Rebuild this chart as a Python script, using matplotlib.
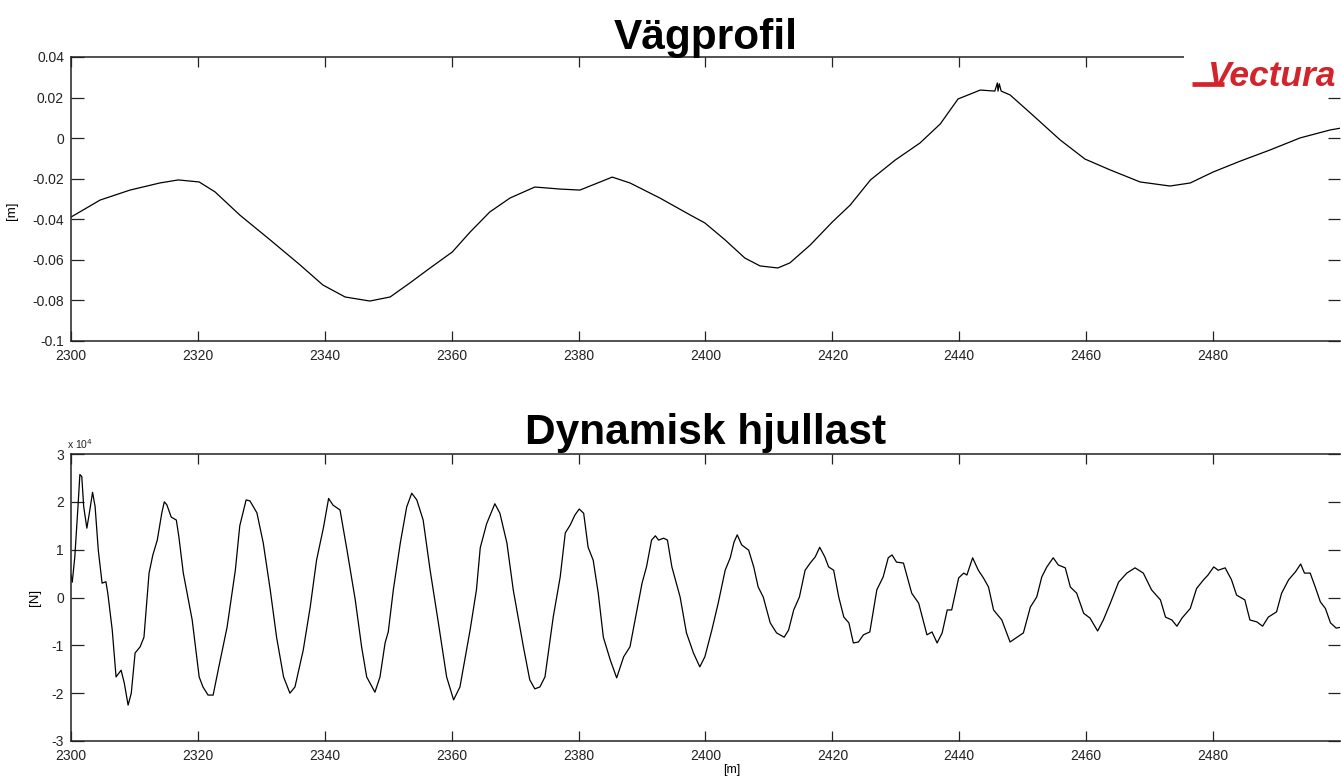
import matplotlib
matplotlib.use("Agg")
import matplotlib.pyplot as plt
from matplotlib.patches import Rectangle
from matplotlib.lines import Line2D

plt.rcParams['font.family'] = ['Liberation Sans', 'DejaVu Sans']

# ---------------- data ----------------
profile_x = [2300.0, 2304.6, 2309.3, 2314.0, 2316.9, 2320.2, 2322.7, 2326.6, 2331.4, 2336.1,
             2339.7, 2343.2, 2347.1, 2350.3, 2353.4, 2356.6, 2360.1, 2362.9, 2366.0, 2369.2,
             2373.1, 2377.1, 2380.2, 2383.4, 2385.3, 2388.1, 2392.8, 2397.6, 2399.9, 2403.1,
             2406.2, 2408.6, 2411.4, 2413.3, 2416.5, 2420.0, 2422.8, 2426.0, 2429.9, 2433.8,
             2437.0, 2439.8, 2443.3, 2445.6, 2446.0, 2446.1, 2446.3, 2446.6, 2448.0, 2451.2,
             2455.9, 2459.8, 2463.8, 2468.5, 2473.2, 2476.4, 2480.0, 2484.3, 2489.0, 2493.7,
             2498.4, 2500.2]
profile_y = [-0.0389, -0.0305, -0.0256, -0.0221, -0.0206, -0.0216, -0.0265, -0.0379, -0.0502, -0.0625,
             -0.0724, -0.0783, -0.0803, -0.0783, -0.0714, -0.0640, -0.0561, -0.0463, -0.0364, -0.0295,
             -0.0241, -0.0251, -0.0256, -0.0216, -0.0192, -0.0221, -0.0295, -0.0379, -0.0418, -0.0502,
             -0.0591, -0.0630, -0.0640, -0.0615, -0.0527, -0.0413, -0.0330, -0.0206, -0.0108, -0.0024,
             0.0070, 0.0193, 0.0237, 0.0232, 0.0272, 0.0232, 0.0268, 0.0232, 0.0213, 0.0124,
             -0.0009, -0.0103, -0.0157, -0.0216, -0.0236, -0.0221, -0.0167, -0.0113, -0.0058, 0.0001,
             0.0040, 0.0050]

load_x = [2300.0, 2300.2, 2300.6, 2301.1, 2301.4, 2301.7, 2302.0, 2302.5, 2302.9, 2303.4,
          2303.8, 2304.3, 2304.9, 2305.5, 2305.8, 2306.5, 2307.1, 2307.9, 2308.4, 2309.0,
          2309.5, 2310.1, 2310.9, 2311.5, 2312.3, 2312.9, 2313.6, 2314.3, 2314.7, 2315.1,
          2315.8, 2316.6, 2317.0, 2317.7, 2319.1, 2320.2, 2320.8, 2321.6, 2322.4, 2323.3,
          2324.6, 2325.9, 2326.6, 2327.6, 2328.2, 2329.3, 2330.3, 2331.4, 2332.4, 2333.5,
          2334.5, 2335.3, 2336.6, 2337.7, 2338.7, 2339.8, 2340.6, 2341.3, 2342.4, 2343.5,
          2344.8, 2345.8, 2346.6, 2347.9, 2348.7, 2349.5, 2350.0, 2350.8, 2351.9, 2352.9,
          2353.7, 2354.5, 2355.5, 2356.6, 2357.9, 2359.2, 2360.3, 2361.3, 2362.9, 2363.9,
          2364.5, 2365.5, 2366.8, 2367.6, 2368.7, 2369.7, 2371.3, 2372.3, 2373.1, 2373.9,
          2374.7, 2376.0, 2377.1, 2377.9, 2378.7, 2379.4, 2380.1, 2380.8, 2381.5, 2382.3,
          2383.1, 2383.9, 2385.0, 2386.0, 2387.1, 2388.1, 2389.2, 2390.0, 2390.7, 2391.5,
          2392.1, 2392.6, 2393.4, 2394.0, 2394.7, 2396.0, 2397.0, 2398.1, 2399.1, 2399.9,
          2401.0, 2402.0, 2403.1, 2403.9, 2404.5, 2405.0, 2405.7, 2406.8, 2407.6, 2408.3,
          2409.1, 2410.2, 2411.2, 2412.4, 2413.1, 2413.9, 2414.8, 2415.7, 2416.5, 2417.3,
          2418.0, 2418.8, 2419.4, 2420.2, 2421.0, 2421.8, 2422.6, 2423.3, 2424.1, 2424.9,
          2425.9, 2427.0, 2428.0, 2428.8, 2429.4, 2430.1, 2431.2, 2432.5, 2433.6, 2434.9,
          2435.7, 2436.5, 2437.3, 2438.1, 2438.8, 2439.9, 2440.7, 2441.2, 2442.1, 2443.0,
          2443.8, 2444.6, 2445.4, 2446.7, 2448.0, 2449.1, 2450.1, 2451.2, 2452.2, 2453.0,
          2453.8, 2454.8, 2455.6, 2456.7, 2457.5, 2458.5, 2459.6, 2460.6, 2461.8, 2462.7,
          2463.8, 2465.1, 2466.4, 2467.7, 2469.0, 2470.3, 2471.7, 2472.5, 2473.5, 2474.3,
          2475.1, 2476.4, 2477.4, 2478.5, 2479.2, 2480.1, 2480.8, 2481.9, 2482.9, 2483.7,
          2485.0, 2485.8, 2486.9, 2487.8, 2488.7, 2490.0, 2490.8, 2491.9, 2493.0, 2493.8,
          2494.4, 2495.3, 2496.1, 2496.9, 2497.7, 2498.5, 2499.4, 2500.2]
load_y = [0.47, 0.32, 0.85, 1.90, 2.57, 2.53, 1.90, 1.45, 1.77, 2.20,
          1.90, 0.99, 0.30, 0.33, 0.09, -0.68, -1.66, -1.52, -1.79, -2.25,
          -2.00, -1.16, -1.03, -0.83, 0.51, 0.89, 1.20, 1.76, 2.00, 1.94,
          1.68, 1.62, 1.27, 0.51, -0.47, -1.66, -1.87, -2.04, -2.04, -1.45,
          -0.62, 0.57, 1.50, 2.04, 2.02, 1.77, 1.14, 0.16, -0.83, -1.66,
          -2.00, -1.87, -1.10, -0.20, 0.78, 1.47, 2.07, 1.93, 1.83, 0.99,
          -0.05, -1.03, -1.66, -1.98, -1.66, -0.95, -0.72, 0.16, 1.14, 1.89,
          2.18, 2.04, 1.62, 0.57, -0.53, -1.66, -2.14, -1.87, -0.68, 0.16,
          1.04, 1.54, 1.96, 1.76, 1.14, 0.16, -1.03, -1.72, -1.91, -1.87,
          -1.66, -0.41, 0.43, 1.35, 1.52, 1.72, 1.85, 1.76, 1.05, 0.78,
          0.09, -0.83, -1.31, -1.68, -1.24, -1.03, -0.26, 0.30, 0.64, 1.20,
          1.29, 1.20, 1.24, 1.20, 0.64, 0.01, -0.74, -1.16, -1.45, -1.24,
          -0.68, -0.12, 0.57, 0.83, 1.16, 1.31, 1.10, 0.99, 0.64, 0.22,
          0.01, -0.53, -0.74, -0.83, -0.68, -0.26, 0.01, 0.57, 0.72, 0.85,
          1.05, 0.85, 0.64, 0.57, 0.01, -0.41, -0.53, -0.95, -0.93, -0.78,
          -0.72, 0.16, 0.43, 0.83, 0.89, 0.74, 0.72, 0.09, -0.12, -0.78,
          -0.72, -0.95, -0.74, -0.26, -0.26, 0.41, 0.51, 0.47, 0.83, 0.57,
          0.41, 0.22, -0.26, -0.47, -0.93, -0.83, -0.74, -0.20, 0.01, 0.43,
          0.64, 0.83, 0.68, 0.62, 0.22, 0.09, -0.33, -0.43, -0.70, -0.47,
          -0.12, 0.32, 0.51, 0.62, 0.51, 0.16, -0.05, -0.41, -0.47, -0.60,
          -0.43, -0.23, 0.19, 0.37, 0.47, 0.64, 0.57, 0.62, 0.37, 0.05,
          -0.05, -0.47, -0.51, -0.60, -0.41, -0.30, 0.09, 0.37, 0.54, 0.70,
          0.51, 0.51, 0.22, -0.09, -0.23, -0.53, -0.64, -0.62]
load_scale = 1e4

x_ticks = [2300, 2320, 2340, 2360, 2380, 2400, 2420, 2440, 2460, 2480]
x_tick_labels = ["2300", "2320", "2340", "2360", "2380", "2400", "2420", "2440", "2460", "2480"]
top_y_ticks = [-0.1, -0.08, -0.06, -0.04, -0.02, 0, 0.02, 0.04]
top_y_labels = ["-0.1", "-0.08", "-0.06", "-0.04", "-0.02", "0", "0.02", "0.04"]
bot_y_ticks = [-3, -2, -1, 0, 1, 2, 3]
bot_y_labels = ["-3", "-2", "-1", "0", "1", "2", "3"]

W, H = 1341, 778
fig = plt.figure(figsize=(W / 100, H / 100), dpi=100)

left = 71 / W
width = (1340 - 71) / W
ax1 = fig.add_axes([left, 1 - 341 / H, width, (341 - 57) / H])
ax2 = fig.add_axes([left, 1 - 741 / H, width, (741 - 454) / H])

ax1.plot(profile_x, profile_y, color='black', lw=0.9)
ax2.plot(load_x, [v * load_scale for v in load_y], color='black', lw=0.9)

for ax in (ax1, ax2):
    ax.set_xlim(2300, 2500)
    ax.set_xticks(x_ticks)
    ax.set_xticklabels(x_tick_labels)
    ax.tick_params(direction='in', top=True, right=True, labelsize=10,
                   length=7, width=0.9, colors='#222222')
    ax.tick_params(axis='x', pad=6)
    ax.tick_params(axis='y', length=9, pad=5)
    for s in ('left', 'top', 'bottom'):
        ax.spines[s].set_linewidth(1.1)
        ax.spines[s].set_color('#222222')
    ax.spines['right'].set_visible(False)

ax1.set_ylim(-0.1, 0.04)
ax1.set_yticks(top_y_ticks)
ax1.set_yticklabels(top_y_labels)
ax2.set_ylim(-3 * load_scale, 3 * load_scale)
ax2.set_yticks([t * load_scale for t in bot_y_ticks])
ax2.set_yticklabels(bot_y_labels)

ax1.set_title("Vägprofil", fontsize=30.5, fontweight='bold', pad=6)
ax2.set_title("Dynamisk hjullast", fontsize=30.5, fontweight='bold', pad=7)

ax1.set_ylabel("[m]", fontsize=9.5)
ax1.yaxis.set_label_coords(-0.042, 0.46)
ax2.set_ylabel("[N]", fontsize=9.5)
ax2.yaxis.set_label_coords(-0.024, 0.5)
ax2.set_xlabel("[m]", fontsize=9)
ax2.xaxis.set_label_coords(0.521, -0.08)

ax2.text(-0.003, 1.012, r"x 10$^{4}$", transform=ax2.transAxes, fontsize=7.5,
         ha='left', va='bottom', color='#222222')

# logo area
fig.patches.append(Rectangle((1184 / W, 1 - 95 / H), (W - 1184) / W, 45 / H,
                             transform=fig.transFigure, facecolor='white',
                             edgecolor='none', zorder=5))
fig.lines.append(Line2D([1192 / W, 1224 / W], [1 - 84 / H, 1 - 84 / H],
                        transform=fig.transFigure, color='#d3242b', lw=3.4,
                        solid_capstyle='butt', zorder=6))
fig.text(1207 / W, 1 - 86 / H, "Vectura", fontsize=25.5, fontstyle='italic',
         fontweight='bold', color='#d3242b', ha='left', va='baseline', zorder=7)

fig.savefig("out.png", dpi=100)
